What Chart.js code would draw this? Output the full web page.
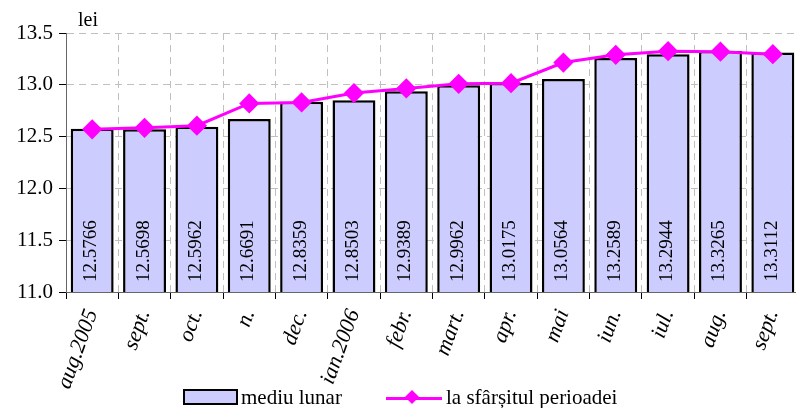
<!DOCTYPE html>
<html>
<head>
<meta charset="utf-8">
<script src="https://cdn.jsdelivr.net/npm/chart.js@4/dist/chart.umd.min.js"></script>
<style>
  html, body { margin: 0; padding: 0; background: #fff; overflow: hidden; }
  #wrap { position: relative; width: 810px; height: 408px; }
  #legend { position: absolute; left: 0; top: 386px; width: 796px; font-family: "Liberation Serif", "Times New Roman", Times, serif; font-size: 21px; color: #000; }
  .item { position: absolute; top: 0; height: 22px; line-height: 22px; white-space: nowrap; }
  .box { display: inline-block; width: 51px; height: 12px; background: #ccccff; border: 2.5px solid #000; vertical-align: -1px; margin-right: 3px; }
  .ln { display: inline-block; position: relative; width: 56px; height: 12px; vertical-align: 0px; margin-right: 4px; }
  .ln i { position: absolute; left: 0; right: 0; top: 5px; height: 3px; background: #ff00ff; }
  .ln b { position: absolute; left: 21px; top: 0px; width: 10px; height: 10px; background: #ff00ff; transform: rotate(45deg); }
</style>
</head>
<body>
<div id="wrap">
  <canvas id="c" width="810" height="408"></canvas>
  <div id="legend">
    <span class="item" style="left:183px"><span class="box"></span>mediu lunar</span>
    <span class="item" style="left:386px"><span class="ln"><i></i><b></b></span>la sfârșitul perioadei</span>
  </div>
</div>
<script>
// months on the x axis
const months = ['aug.2005', 'sept.', 'oct.', 'n.', 'dec.', 'ian.2006', 'febr.', 'mart.', 'apr.', 'mai', 'iun.', 'iul.', 'aug.', 'sept.'];
// monthly average (bars)
const monthlyAvg = [12.5766, 12.5698, 12.5962, 12.6691, 12.8359, 12.8503, 12.9389, 12.9962, 13.0175, 13.0564, 13.2589, 13.2944, 13.3265, 13.3112];
// end of period (line)
const endOfPeriod = [12.57, 12.585, 12.605, 12.82, 12.83, 12.92, 12.965, 13.01, 13.015, 13.215, 13.29, 13.325, 13.32, 13.295];
const yTicks = [11.0, 11.5, 12.0, 12.5, 13.0, 13.5];

const serif = '"Liberation Serif", "Times New Roman", Times, serif';

// values written vertically inside the bars + the 'lei' unit label
const barLabels = {
    id: 'barLabels',
    afterDatasetsDraw(chart) {
        const ctx = chart.ctx;
        const meta = chart.getDatasetMeta(1);
        ctx.save();
        ctx.font = '19px ' + serif;
        ctx.fillStyle = '#000';
        ctx.textAlign = 'center';
        ctx.textBaseline = 'middle';
        meta.data.forEach((bar, i) => {
            ctx.save();
            ctx.translate(bar.x - 1, 251);
            ctx.rotate(-Math.PI / 2);
            ctx.fillText(monthlyAvg[i].toFixed(4), 0, 0);
            ctx.restore();
        });
        ctx.font = '20px ' + serif;
        ctx.textAlign = 'left';
        ctx.fillText('lei', 78, 21);
        ctx.restore();
    }
};

new Chart(document.getElementById('c'), {
    data: {
        labels: months,
        datasets: [{
            type: 'line',
            label: 'la sfârșitul perioadei',
            data: endOfPeriod,
            borderColor: '#ff00ff',
            backgroundColor: '#ff00ff',
            borderWidth: 3,
            pointStyle: 'rectRot',
            pointRadius: 8,
            pointHoverRadius: 8,
            tension: 0,
            order: 0
        }, {
            type: 'bar',
            label: 'mediu lunar',
            data: monthlyAvg,
            backgroundColor: '#ccccff',
            borderColor: '#000',
            borderWidth: 2.5,
            borderSkipped: false,
            barPercentage: 0.82,
            categoryPercentage: 1.0,
            order: 1
        }]
    },
    options: {
        responsive: false,
        animation: false,
        devicePixelRatio: 1,
        layout: { padding: { top: 33, right: 8, left: 0, bottom: 0 } },
        plugins: {
            legend: { display: false },
            tooltip: { enabled: false }
        },
        scales: {
            x: {
                grid: {
                    offset: true,
                    color: '#c0c0c0',
                    tickColor: '#000',
                    tickLength: 7,
                    tickBorderDash: []
                },
                border: { color: '#666', width: 1, dash: [7, 5] },
                ticks: {
                    color: '#000',
                    font: { family: serif, size: 22, style: 'italic' },
                    minRotation: 70,
                    maxRotation: 70,
                    autoSkip: false,
                    padding: 7
                },
                afterFit(scale) { scale.height = 116; }
            },
            y: {
                min: 11,
                max: 13.5,
                afterBuildTicks(scale) { scale.ticks = yTicks.map(v => ({ value: v })); },
                grid: {
                    color: '#c0c0c0',
                    tickColor: '#000',
                    tickLength: 7,
                    tickBorderDash: []
                },
                border: { color: '#666', width: 1, dash: [7, 5] },
                ticks: {
                    color: '#000',
                    font: { family: serif, size: 21 },
                    padding: 6,
                    callback: v => Number(v).toFixed(1)
                },
                afterFit(scale) { scale.width = 66; }
            }
        }
    },
    plugins: [barLabels]
});
</script>
</body>
</html>
